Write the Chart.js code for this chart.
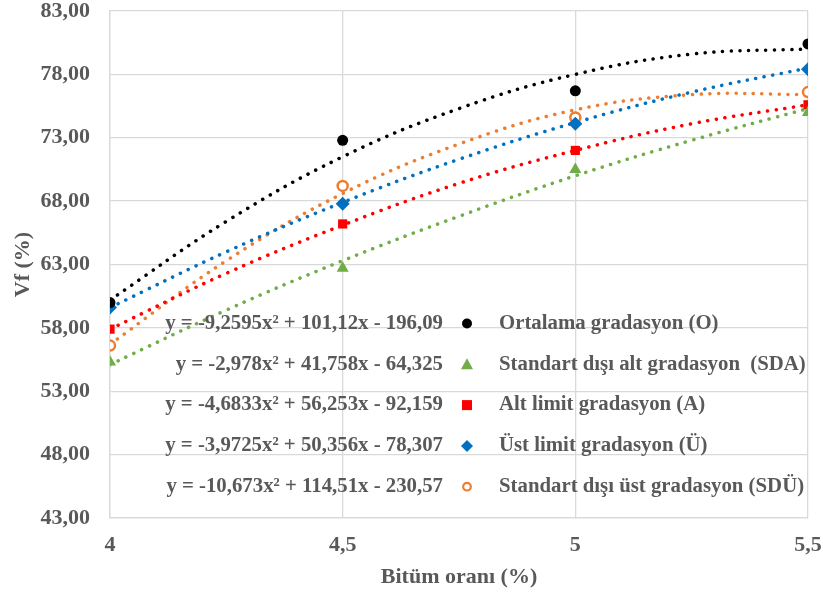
<!DOCTYPE html>
<html>
<head>
<meta charset="utf-8">
<script src="https://cdn.jsdelivr.net/npm/chart.js@4/dist/chart.umd.min.js"></script>
<style>
  html, body { margin: 0; padding: 0; background: #fff; }
  #wrap { width: 823px; height: 597px; }
</style>
</head>
<body>
<div id="wrap"><canvas id="vfChart" width="823" height="597"></canvas></div>
<script>
// bitüm oranı (%)
const xValues = [4, 4.5, 5, 5.5];
const xTickLabels = ['4', '4,5', '5', '5,5'];

// measured Vf (%) points
const ortalama = [60.0, 72.8, 76.7, 80.4];
const sda = [55.3, 62.7, 70.5, 75.0];
const altLimit = [57.9, 66.2, 72.0, 75.6];
const ustLimit = [59.6, 67.8, 74.1, 78.4];
const sdu = [56.6, 69.2, 74.6, 76.6];

// trend curves
const trendX = [4, 4.25, 4.5, 4.75, 5, 5.25, 5.5];
const ortalamaTrend = [60.2, 66.4, 71.5, 75.3, 78.0, 79.6, 80.0];
const sdaTrend = [55.1, 59.4, 63.3, 66.8, 70.0, 72.8, 75.3];
const altLimitTrend = [57.9, 62.3, 66.1, 69.4, 72.0, 74.1, 75.6];
const ustLimitTrend = [59.6, 64.0, 67.9, 71.3, 74.2, 76.6, 78.5];
const sduTrend = [56.7, 63.3, 68.6, 72.5, 75.2, 76.4, 76.4];

const seriesNames = [
  'Ortalama gradasyon (O)',
  'Standart dışı alt gradasyon  (SDA)',
  'Alt limit gradasyon (A)',
  'Üst limit gradasyon (Ü)',
  'Standart dışı üst gradasyon (SDÜ)'
];
const equations = [
  'y = -9,2595x² + 101,12x - 196,09',
  'y = -2,978x² + 41,758x - 64,325',
  'y = -4,6833x² + 56,253x - 92,159',
  'y = -3,9725x² + 50,356x - 78,307',
  'y = -10,673x² + 114,51x - 230,57'
];

const FONT = "'Times New Roman', 'Liberation Serif', serif";
const TEXT = '#595959';
const GRID = '#d9d9d9';

const styles = [
  { color: '#000000', shape: 'circle', r: 5.5, open: false },
  { color: '#70ad47', shape: 'triangle', r: 7, open: false },
  { color: '#ff0000', shape: 'rect', r: 6.5, open: false },
  { color: '#0070c0', shape: 'rectRot', r: 7, open: false },
  { color: '#ed7d31', shape: 'circle', r: 5, open: true }
];

const pointSets = [ortalama, sda, altLimit, ustLimit, sdu];
const trendSets = [ortalamaTrend, sdaTrend, altLimitTrend, ustLimitTrend, sduTrend];

function toXY(xs, ys) {
  return xs.map((x, i) => ({ x: x, y: ys[i] }));
}

var datasets = [];
trendSets.forEach(function (vals, i) {
  datasets.push({
    label: seriesNames[i] + ' trend',
    data: toXY(trendX, vals),
    showLine: true,
    tension: 0.4,
    borderColor: styles[i].color,
    borderWidth: 3.5,
    borderCapStyle: 'round',
    borderDash: [0.1, 8.6],
    pointRadius: 0,
    order: 2
  });
});
pointSets.forEach(function (vals, i) {
  var s = styles[i];
  datasets.push({
    label: seriesNames[i],
    data: toXY(xValues, vals),
    showLine: false,
    pointStyle: s.shape,
    pointRadius: s.r,
    pointHoverRadius: s.r,
    backgroundColor: s.open ? '#ffffff' : s.color,
    borderColor: s.color,
    pointBorderWidth: s.open ? 2.5 : 0,
    order: 1
  });
});

function drawMarker(ctx, s, x, y) {
  ctx.save();
  ctx.fillStyle = s.open ? '#ffffff' : s.color;
  ctx.strokeStyle = s.color;
  ctx.lineWidth = 2.2;
  ctx.beginPath();
  if (s.shape === 'circle') {
    ctx.arc(x, y, s.open ? 3.8 : 5, 0, Math.PI * 2);
  } else if (s.shape === 'triangle') {
    ctx.moveTo(x, y - 6);
    ctx.lineTo(x + 6, y + 5);
    ctx.lineTo(x - 6, y + 5);
    ctx.closePath();
  } else if (s.shape === 'rect') {
    ctx.rect(x - 5, y - 5, 10, 10);
  } else if (s.shape === 'rectRot') {
    ctx.moveTo(x, y - 6);
    ctx.lineTo(x + 6, y);
    ctx.lineTo(x, y + 6);
    ctx.lineTo(x - 6, y);
    ctx.closePath();
  }
  ctx.fill();
  if (s.open) ctx.stroke();
  ctx.restore();
}

// legend drawn inside the plot, with the trendline equations
const equationLegend = {
  id: 'equationLegend',
  afterDatasetsDraw(chart) {
    var ctx = chart.ctx;
    ctx.save();
    ctx.fillStyle = TEXT;
    ctx.font = 'bold 20.8px ' + FONT;
    ctx.textBaseline = 'middle';
    for (var i = 0; i < seriesNames.length; i++) {
      var y = 323.5 + i * 40.8;
      ctx.textAlign = 'right';
      ctx.fillText(equations[i], 443, y);
      drawMarker(ctx, styles[i], 467, y);
      ctx.textAlign = 'left';
      ctx.fillText(seriesNames[i], 499, y);
    }
    ctx.restore();
  }
};

var ctx = document.getElementById('vfChart').getContext('2d');
var vfChart = new Chart(ctx, {
  type: 'scatter',
  data: { datasets: datasets },
  plugins: [equationLegend],
  options: {
    responsive: false,
    animation: false,
    layout: { padding: 0 },
    plugins: {
      legend: { display: false },
      tooltip: { enabled: false }
    },
    scales: {
      x: {
        type: 'linear',
        min: 4,
        max: 5.5,
        afterFit: function (scale) {
          scale.height = 79;
          scale.paddingLeft = 0;
          scale.paddingRight = 15;
        },
        afterBuildTicks: function (scale) {
          scale.ticks = xValues.map(function (v) { return { value: v }; });
        },
        grid: { color: GRID, lineWidth: 1.3, drawTicks: false },
        border: { color: GRID, width: 1.3 },
        ticks: {
          padding: 14,
          color: TEXT,
          font: { family: FONT, size: 22, weight: 'bold' },
          callback: function (v) {
            var k = xValues.indexOf(v);
            return k >= 0 ? xTickLabels[k] : '';
          }
        },
        title: {
          display: true,
          text: 'Bitüm oranı (%)',
          color: TEXT,
          font: { family: FONT, size: 22, weight: 'bold' },
          padding: { top: 0, bottom: 6 }
        }
      },
      y: {
        min: 43,
        max: 83,
        afterFit: function (scale) {
          scale.width = 110;
          scale.paddingTop = 11;
          scale.paddingBottom = 0;
        },
        grid: { color: GRID, lineWidth: 1.3, drawTicks: false },
        border: { color: GRID, width: 1.3 },
        ticks: {
          stepSize: 5,
          padding: 20,
          color: TEXT,
          font: { family: FONT, size: 22, weight: 'bold' },
          callback: function (v) { return v.toFixed(2).replace('.', ','); }
        },
        title: {
          display: true,
          text: 'Vf (%)',
          color: TEXT,
          font: { family: FONT, size: 22, weight: 'bold' },
          padding: { top: 10, bottom: 0 }
        }
      }
    }
  }
});
</script>
</body>
</html>
